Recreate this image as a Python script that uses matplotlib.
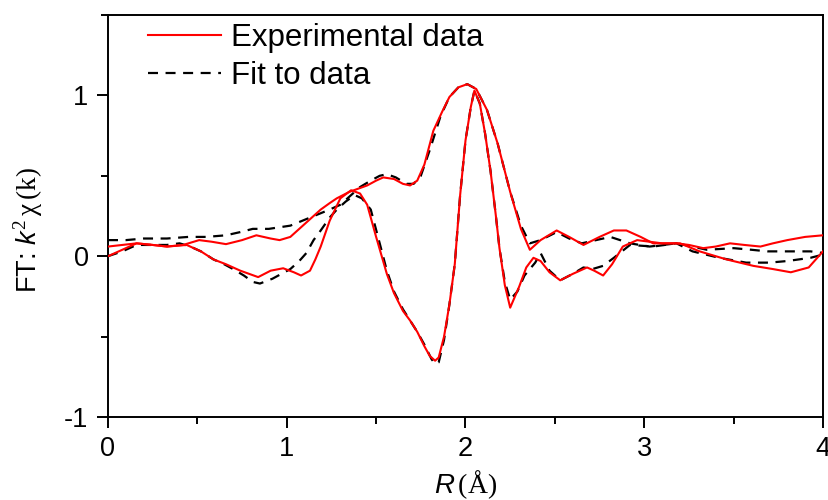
import matplotlib
matplotlib.use("Agg")
import matplotlib.pyplot as plt
from matplotlib.ticker import MultipleLocator

plt.rcParams['font.family'] = ['Liberation Sans', 'DejaVu Sans']
plt.rcParams['mathtext.fontset'] = 'custom'
plt.rcParams['mathtext.rm'] = 'Liberation Serif'
plt.rcParams['mathtext.it'] = 'Liberation Sans:italic'
plt.rcParams['axes.unicode_minus'] = False

# Experimental magnitude
exp_mag_x = [0.00, 0.08, 0.16, 0.25, 0.33, 0.42, 0.51, 0.58, 0.66, 0.75, 0.83, 0.91, 0.96, 1.02, 1.09,
             1.14, 1.19, 1.24, 1.28, 1.35, 1.40, 1.45, 1.50, 1.54, 1.60, 1.65, 1.69, 1.73, 1.77, 1.82,
             1.87, 1.91, 1.96, 2.01, 2.06, 2.12, 2.18, 2.25, 2.31, 2.36, 2.42, 2.51, 2.58, 2.66, 2.75,
             2.83, 2.90, 2.98, 3.05, 3.18, 3.25, 3.33, 3.40, 3.48, 3.56, 3.65, 3.72, 3.80, 3.90, 4.00]
exp_mag_y = [0.06, 0.07, 0.08, 0.07, 0.06, 0.07, 0.10, 0.09, 0.075, 0.10, 0.13, 0.11, 0.10, 0.12, 0.19,
             0.24, 0.29, 0.33, 0.36, 0.40, 0.42, 0.44, 0.47, 0.49, 0.48, 0.45, 0.44, 0.47, 0.57, 0.78,
             0.90, 0.99, 1.05, 1.07, 1.04, 0.91, 0.70, 0.40, 0.17, 0.04, 0.10, 0.16, 0.12, 0.07, 0.12,
             0.16, 0.16, 0.12, 0.08, 0.08, 0.07, 0.05, 0.06, 0.08, 0.07, 0.06, 0.08, 0.10, 0.12, 0.13]

# Experimental imaginary part
exp_im_x = [0.00, 0.08, 0.16, 0.25, 0.33, 0.44, 0.52, 0.59, 0.66, 0.74, 0.84, 0.91, 0.98, 1.04, 1.08,
            1.13, 1.16, 1.19, 1.24, 1.30, 1.36, 1.41, 1.45, 1.50, 1.56, 1.60, 1.65, 1.69, 1.73, 1.77,
            1.80, 1.83, 1.85, 1.88, 1.91, 1.94, 1.97, 2.00, 2.03, 2.05, 2.08, 2.11, 2.14, 2.17, 2.19,
            2.22, 2.25, 2.30, 2.34, 2.38, 2.42, 2.47, 2.53, 2.60, 2.68, 2.72, 2.77, 2.82, 2.88, 2.96,
            3.10, 3.20, 3.31, 3.46, 3.61, 3.72, 3.82, 3.92, 4.00]
exp_im_y = [0.00, 0.04, 0.08, 0.07, 0.06, 0.07, 0.03, -0.02, -0.05, -0.09, -0.13, -0.09, -0.075, -0.10, -0.12,
            -0.09, -0.02, 0.06, 0.22, 0.36, 0.41, 0.39, 0.32, 0.12, -0.11, -0.23, -0.34, -0.40, -0.47, -0.56,
            -0.62, -0.65, -0.63, -0.50, -0.30, -0.05, 0.38, 0.72, 0.93, 1.03, 0.95, 0.76, 0.53, 0.25, 0.05,
            -0.18, -0.32, -0.19, -0.07, -0.01, -0.03, -0.10, -0.15, -0.11, -0.07, -0.09, -0.12, -0.05, 0.06, 0.10,
            0.08, 0.08, 0.03, -0.02, -0.06, -0.08, -0.10, -0.07, 0.03]

# Fit magnitude
fit_mag_x = [0.00, 0.10, 0.20, 0.33, 0.45, 0.55, 0.66, 0.74, 0.81, 0.90, 1.02, 1.13, 1.24, 1.30, 1.35,
             1.41, 1.47, 1.52, 1.56, 1.61, 1.67, 1.71, 1.75, 1.80, 1.86, 1.91, 1.96, 2.01, 2.06, 2.12,
             2.18, 2.25, 2.31, 2.36, 2.42, 2.51, 2.58, 2.65, 2.73, 2.81, 2.92, 3.03, 3.18, 3.27, 3.35,
             3.50, 3.60, 3.69, 3.80, 3.93, 4.00]
fit_mag_y = [0.10, 0.10, 0.11, 0.11, 0.12, 0.12, 0.13, 0.15, 0.17, 0.17, 0.19, 0.24, 0.29, 0.32, 0.37,
             0.43, 0.47, 0.50, 0.51, 0.49, 0.45, 0.45, 0.50, 0.66, 0.87, 0.99, 1.05, 1.07, 1.04, 0.91,
             0.70, 0.40, 0.19, 0.08, 0.10, 0.15, 0.11, 0.08, 0.10, 0.12, 0.08, 0.06, 0.08, 0.06, 0.04,
             0.05, 0.04, 0.03, 0.03, 0.03, 0.02]

# Fit imaginary part
fit_im_x = [0.00, 0.08, 0.16, 0.25, 0.33, 0.40, 0.46, 0.52, 0.59, 0.65, 0.70, 0.76, 0.81, 0.85, 0.92,
            1.02, 1.07, 1.11, 1.15, 1.19, 1.24, 1.28, 1.33, 1.38, 1.42, 1.47, 1.52, 1.56, 1.60, 1.65,
            1.69, 1.73, 1.77, 1.81, 1.83, 1.85, 1.88, 1.91, 1.94, 1.97, 2.00, 2.03, 2.05, 2.08, 2.11,
            2.14, 2.17, 2.19, 2.22, 2.25, 2.29, 2.33, 2.39, 2.42, 2.47, 2.53, 2.60, 2.66, 2.71, 2.77,
            2.83, 2.92, 3.05, 3.18, 3.27, 3.42, 3.57, 3.70, 3.80, 3.93, 4.00]
fit_im_y = [0.00, 0.03, 0.07, 0.07, 0.07, 0.08, 0.06, 0.03, -0.02, -0.05, -0.08, -0.12, -0.16, -0.17, -0.14,
            -0.08, -0.03, 0.02, 0.10, 0.16, 0.24, 0.29, 0.34, 0.38, 0.36, 0.29, 0.08, -0.09, -0.22, -0.33,
            -0.40, -0.47, -0.55, -0.64, -0.67, -0.66, -0.52, -0.30, -0.05, 0.38, 0.72, 0.93, 1.03, 0.95, 0.76,
            0.53, 0.25, 0.05, -0.16, -0.27, -0.22, -0.12, -0.04, 0.02, -0.09, -0.15, -0.11, -0.07, -0.08, -0.06,
            -0.01, 0.07, 0.06, 0.08, 0.03, -0.01, -0.04, -0.04, -0.03, -0.01, 0.01]

x_ticks = [0, 1, 2, 3, 4]
y_ticks = [-1, 0, 1]
legend_labels = ["Experimental data", "Fit to data"]

fig = plt.figure(figsize=(8.29, 5.0), dpi=100)
ax = fig.add_axes([108/829, 1 - 417/500, (823 - 108)/829, (417 - 15)/500])

red = '#ff0000'
lw_r = 1.5
lw_b = 1.6
dash = (4.5, 3.4)

l1, = ax.plot(exp_mag_x, exp_mag_y, color=red, lw=lw_r, zorder=3, solid_joinstyle='round')
ax.plot(exp_im_x, exp_im_y, color=red, lw=lw_r, zorder=3, solid_joinstyle='round')
l2, = ax.plot(fit_mag_x, fit_mag_y, color='black', lw=lw_b, dashes=dash, zorder=2)
ax.plot(fit_im_x, fit_im_y, color='black', lw=lw_b, dashes=dash, zorder=2)

ax.set_xlim(0, 4)
ax.set_ylim(-1, 1.5)
ax.set_xticks(x_ticks)
ax.set_xticklabels([str(t) for t in x_ticks])
ax.set_yticks(y_ticks)
ax.set_yticklabels([str(t) for t in y_ticks])
ax.xaxis.set_minor_locator(MultipleLocator(0.5))
ax.yaxis.set_minor_locator(MultipleLocator(0.5))
ax.tick_params(which='major', direction='out', length=8, width=1.4, labelsize=19.5, pad=6,
               top=False, right=False)
ax.tick_params(which='minor', direction='out', length=5, width=1.4, top=False, right=False)
for s in ax.spines.values():
    s.set_linewidth(1.4)

ax.set_xlabel(r'$R\,(\mathrm{\AA})$', fontsize=20, labelpad=4)
ax.set_ylabel(r'FT: $k^{2}\,\mathrm{\chi}\,(\mathrm{k})$', fontsize=19.5)
ax.yaxis.set_label_coords(-0.088, 0.465)

leg = ax.legend([l1, l2], legend_labels, loc='upper left', frameon=False, fontsize=22.5,
                bbox_to_anchor=(148/829, 1 - 23/500), bbox_transform=fig.transFigure,
                borderpad=0, borderaxespad=0, handlelength=2.35, handletextpad=0.3,
                labelspacing=0.26)

fig.savefig('out.png', dpi=100)
